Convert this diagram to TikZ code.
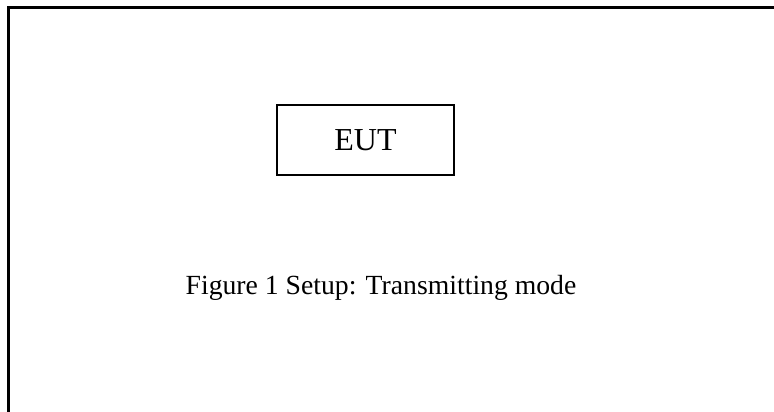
\documentclass[tikz,border=0pt]{standalone}
\usepackage{fontspec}
\setmainfont{Liberation Serif}
\begin{document}
\begin{tikzpicture}[x=1pt,y=-1pt,
  frameline/.style={line width=2.2pt,line cap=butt},
  box/.style={draw,line width=1.3pt,minimum width=177pt,minimum height=70pt,inner sep=0pt,font=\fontsize{32}{36}\selectfont},
  caption/.style={inner sep=0pt,anchor=base,font=\fontsize{27.7}{31}\selectfont}]
\useasboundingbox (0,0) rectangle (774,412);
\coordinate (tl) at (8.5,7.5);
\coordinate (tr) at (774,7.5);
\coordinate (bl) at (8.5,412);
\draw[frameline] (tr) -- (tl) -- (bl);
\node[box] (eut) at (365.5,140) {EUT};
\node[caption] (cap) at (381,294) {Figure 1 Setup: Transmitting mode};
\end{tikzpicture}
\end{document}
